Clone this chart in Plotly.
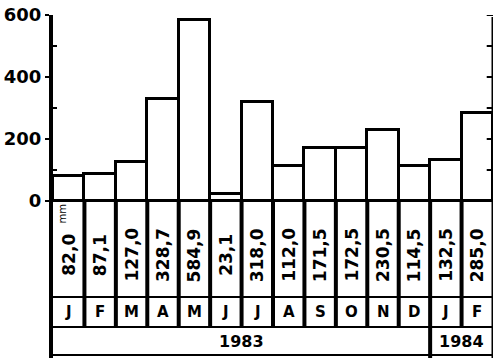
import plotly.graph_objects as go

months = ["J", "F", "M", "A", "M", "J", "J", "A", "S", "O", "N", "D", "J", "F"]
values = [82.0, 87.1, 127.0, 328.7, 584.9, 23.1, 318.0, 112.0, 171.5, 172.5, 230.5, 114.5, 132.5, 285.0]
value_labels = ["82,0", "87,1", "127,0", "328,7", "584,9", "23,1", "318,0", "112,0",
                "171,5", "172,5", "230,5", "114,5", "132,5", "285,0"]
years = ["1983", "1984"]
year_spans = [(0, 11), (12, 13)]
y_ticks = [0, 200, 400, 600]

# pixel geometry helpers (layout only)
PX0, PX600 = 201, 15
SCALE = 600 / (PX0 - PX600)
H = 358
def py(p):
    return (PX0 - p) * SCALE

n = len(values)
fig = go.Figure()
fig.add_trace(go.Bar(
    x=list(range(n)), y=values, width=1,
    marker=dict(color="white", line=dict(color="black", width=3)),
    hoverinfo="skip", showlegend=False,
))

BOLD = dict(family="DejaVu Sans", size=17, color="black", weight="bold")
shapes = []
L, R = -0.5, n - 0.5
# zero line and table row lines
for p, w in [(201, 2), (297, 2), (327, 2), (355, 2)]:
    shapes.append(dict(type="line", xref="x", yref="y", x0=L, x1=R, y0=py(p), y1=py(p),
                       line=dict(color="black", width=w)))
# column separators in table
for i in range(1, n):
    bottom = py(H) if i == 12 else py(327)
    shapes.append(dict(type="line", xref="x", yref="y", x0=i - 0.5, x1=i - 0.5, y0=0, y1=bottom,
                       line=dict(color="black", width=4)))
# right border
shapes.append(dict(type="line", xref="x", yref="y", x0=R, x1=R, y0=py(H), y1=py(17),
                   line=dict(color="black", width=3)))
for t in range(100, 700, 100):
    shapes.append(dict(type="line", xref="x", yref="y", x0=R, x1=R - 0.2, y0=t, y1=t,
                       line=dict(color="black", width=2)))

ann = []
for i, lab in enumerate(value_labels):
    ann.append(dict(x=i, y=py(255), xref="x", yref="y", text=lab, textangle=-90,
                    showarrow=False, font=dict(BOLD, size=17)))
for i, m in enumerate(months):
    ann.append(dict(x=i, y=py(312), xref="x", yref="y", text=m, showarrow=False,
                    font=dict(BOLD, size=15)))
for yr, (a, b) in zip(years, year_spans):
    ann.append(dict(x=(a + b) / 2, y=py(341), xref="x", yref="y", text=yr, showarrow=False,
                    font=dict(BOLD, size=16)))
ann.append(dict(x=L, y=py(214), xref="x", yref="y", text="mm", textangle=-90, xanchor="left",
                xshift=1, showarrow=False, font=dict(family="DejaVu Sans", size=10, color="black")))

fig.update_layout(
    width=495, height=358,
    margin=dict(l=53, r=2, t=15, b=0, autoexpand=False),
    paper_bgcolor="white", plot_bgcolor="white",
    bargap=0,
    shapes=shapes, annotations=ann,
    xaxis=dict(range=[L, R], visible=False, fixedrange=True),
    yaxis=dict(range=[py(H), 600], tickvals=y_ticks, ticktext=[str(v) for v in y_ticks],
               ticks="outside", ticklen=4, tickwidth=2, tickcolor="black",
               showline=True, linewidth=4, linecolor="black",
               showgrid=False, zeroline=False, automargin=False,
               tickfont=dict(BOLD, size=18),
               minor=dict(tickvals=[100, 300, 500], ticks="inside", ticklen=4, tickcolor="black", tickwidth=2)),
)
fig.write_html("out.html", config={"displayModeBar": False},
               post_script="document.body.style.margin='0';document.body.style.overflow='hidden';")
